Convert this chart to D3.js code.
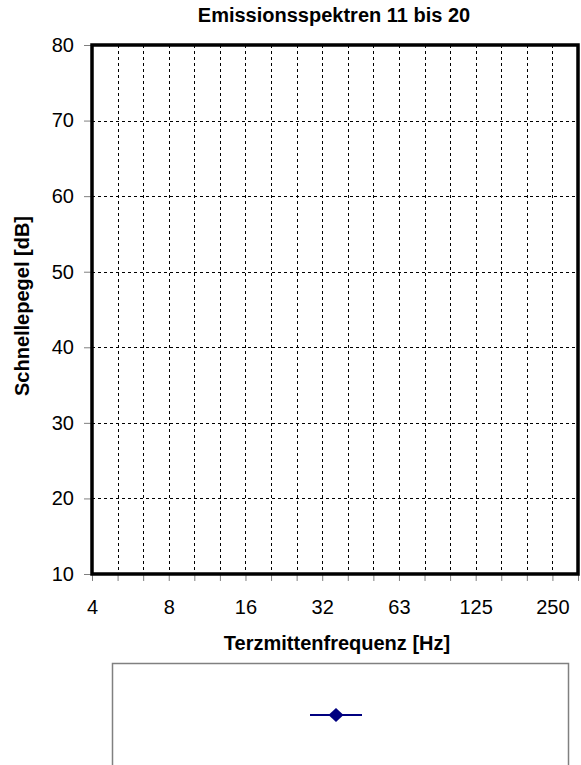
<!DOCTYPE html>
<html lang="de">
<head>
  <meta charset="utf-8">
  <title>Emissionsspektren 11 bis 20</title>
  <script src="https://cdnjs.cloudflare.com/ajax/libs/d3/7.8.5/d3.min.js"></script>
  <style type="text/css">
  body {
    margin: 0;
    background: #fff;
  }
  #chart text {
    font-family: "Liberation Sans", Arial, sans-serif;
    fill: #000;
  }
  .grid line {
    stroke: #000;
    stroke-width: 1;
    stroke-dasharray: 3,3;
  }
  .axis path {
    display: none;
  }
  .axis line {
    stroke: #808080;
  }
  </style>
</head>
<body>
  <svg id="chart"></svg>
  <script type="text/javascript">
  // Terzmittenfrequenzen (category axis), every third one gets a label
  var freqs = ["4", "5", "6.3", "8", "10", "12.5", "16", "20", "25", "32",
               "40", "50", "63", "80", "100", "125", "160", "200", "250", "315"];
  var shownFreqs = ["4", "8", "16", "32", "63", "125", "250"];
  var yTicks = [10, 20, 30, 40, 50, 60, 70, 80];
  // the series has no points in the picture, only its legend entry
  var seriesNames = [""];
  var seriesValues = [[]];

  var w = 581, h = 765;
  // plot area edges (don't call these "top", that's window.top)
  var plotL = 92, plotR = 578, plotT = 45, plotB = 574;

  var svg = d3.select("#chart")
    .attr("width", w)
    .attr("height", h);

  var x = d3.scalePoint()
    .domain(freqs)
    .range([plotL, plotR]);

  var y = d3.scaleLinear()
    .domain([10, 80])
    .range([plotB, plotT]);

  // grid
  var grid = svg.append("g").attr("class", "grid");
  grid.selectAll("line.v")
    .data(freqs.slice(1, -1))
    .enter()
    .append("line")
    .attr("class", "v")
    .attr("x1", function(d) { return Math.round(x(d)) + 0.5; })
    .attr("x2", function(d) { return Math.round(x(d)) + 0.5; })
    .attr("y1", plotT)
    .attr("y2", plotB);
  grid.selectAll("line.h")
    .data(yTicks.slice(1, -1))
    .enter()
    .append("line")
    .attr("class", "h")
    .attr("x1", plotL)
    .attr("x2", plotR)
    .attr("y1", function(d) { return Math.round(y(d)) + 0.5; })
    .attr("y2", function(d) { return Math.round(y(d)) + 0.5; });

  // axes
  var xAxis = svg.append("g")
    .attr("class", "axis")
    .attr("transform", "translate(0," + plotB + ")")
    .call(d3.axisBottom(x)
      .tickSize(7)
      .tickPadding(19)
      .tickFormat(function(d) { return shownFreqs.indexOf(d) >= 0 ? d : ""; }));
  xAxis.selectAll("text").style("font-size", "20px");

  var yAxis = svg.append("g")
    .attr("class", "axis")
    .attr("transform", "translate(" + plotL + ",0)")
    .call(d3.axisLeft(y)
      .tickValues(yTicks)
      .tickSize(8)
      .tickPadding(10));
  yAxis.selectAll("text").style("font-size", "20px");

  // plot frame
  svg.append("rect")
    .attr("x", plotL)
    .attr("y", plotT)
    .attr("width", plotR - plotL)
    .attr("height", plotB - plotT)
    .attr("fill", "none")
    .attr("stroke", "#000")
    .attr("stroke-width", 3.5);

  // series (empty)
  var line = d3.line()
    .x(function(d, i) { return x(freqs[i]); })
    .y(function(d) { return y(d); });
  svg.selectAll("path.series")
    .data(seriesValues)
    .enter()
    .append("path")
    .attr("class", "series")
    .attr("fill", "none")
    .attr("stroke", "#000080")
    .attr("stroke-width", 2)
    .attr("d", line);

  // titles
  svg.append("text")
    .attr("x", 334)
    .attr("y", 22)
    .attr("text-anchor", "middle")
    .attr("font-weight", "bold")
    .style("font-size", "20px")
    .text("Emissionsspektren 11 bis 20");

  svg.append("text")
    .attr("x", 337)
    .attr("y", 650)
    .attr("text-anchor", "middle")
    .attr("font-weight", "bold")
    .style("font-size", "20px")
    .text("Terzmittenfrequenz [Hz]");

  svg.append("text")
    .attr("transform", "translate(29,306) rotate(-90)")
    .attr("text-anchor", "middle")
    .attr("font-weight", "bold")
    .style("font-size", "20px")
    .text("Schnellepegel [dB]");

  // legend
  var legend = svg.append("g");
  legend.append("rect")
    .attr("x", 112.5)
    .attr("y", 663.5)
    .attr("width", 456)
    .attr("height", 120)
    .attr("fill", "#fff")
    .attr("stroke", "#808080")
    .attr("stroke-width", 1.5);

  var entry = legend.selectAll("g.entry")
    .data(seriesNames)
    .enter()
    .append("g")
    .attr("class", "entry")
    .attr("transform", function(d, i) { return "translate(336," + (715 + i * 20) + ")"; });
  entry.append("line")
    .attr("x1", -26)
    .attr("x2", 26)
    .attr("stroke", "#000080")
    .attr("stroke-width", 2);
  entry.append("path")
    .attr("d", "M0,-7L7.5,0L0,7L-7.5,0Z")
    .attr("fill", "#000080");
  entry.append("text")
    .attr("x", 34)
    .attr("dy", "0.35em")
    .style("font-size", "14px")
    .text(function(d) { return d; });
  </script>
</body>
</html>
